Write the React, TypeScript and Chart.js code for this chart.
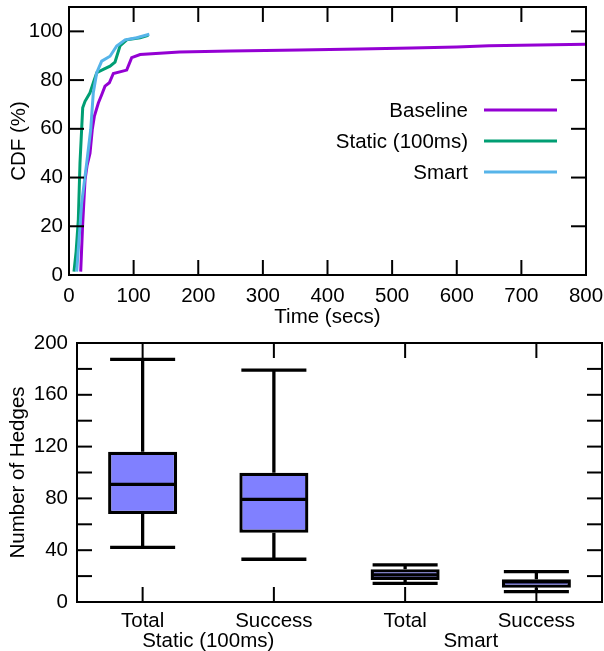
import React, { useEffect, useRef } from "react";
import { Chart, registerables } from "chart.js";

Chart.register(...registerables);

const FONT_FAMILY = "'Liberation Sans', Arial, Helvetica, sans-serif";
const FONT_SIZE = 20.5;

// ---------------- CDF chart data ----------------
const seriesLabels = ["Baseline", "Static (100ms)", "Smart"];
const seriesColors = ["#9400d3", "#009e73", "#56b4e9"];

const baselineTime = [18.1, 21, 24.8, 28, 32.5, 36, 39.2, 45.4, 50.6, 55.7, 62.4, 68.6, 89.3, 97, 110, 171, 250, 357, 450, 530, 600, 650, 700, 800];
const baselineCdf = [1.4, 20, 39, 45, 50, 59.7, 65.1, 70.6, 74, 77.5, 78.9, 82.7, 84.1, 89.2, 90.5, 91.5, 91.9, 92.3, 92.8, 93.2, 93.6, 94.1, 94.3, 94.7];

const staticTime = [7.7, 11, 14.4, 17, 21.2, 24.8, 32.5, 37.6, 42.9, 53.1, 63.5, 71.2, 78.9, 89.3, 110, 122.8];
const staticCdf = [1.4, 9.6, 22.6, 46, 68.6, 71.3, 74.8, 78.9, 83, 84.4, 85.7, 87.4, 94, 96.5, 97.4, 98.4];

const smartTime = [11.9, 19.6, 27.4, 33.6, 37.6, 42.9, 50.6, 63.5, 73.8, 86.7, 104.8, 124.3];
const smartCdf = [1.4, 29.5, 46, 59.7, 74.8, 83, 87.8, 89.8, 94, 96.5, 97.4, 98.8];

const timeTicks = [0, 100, 200, 300, 400, 500, 600, 700, 800];
const cdfTicks = [0, 20, 40, 60, 80, 100];

// ---------------- Box plot data ----------------
const boxCategories = ["Total", "Success", "Total", "Success"];
const boxGroups = ["Static (100ms)", "Smart"];
const whiskerLow = [42.2, 33, 14.4, 8];
const quartile1 = [68, 53.5, 17, 11];
const medianVals = [90.9, 79.3, 21, 15.5];
const quartile3 = [116, 99.8, 25.3, 17.5];
const whiskerHigh = [187.4, 179, 28.6, 23.4];
const hedgeTicks = [0, 20, 40, 60, 80, 100, 120, 140, 160, 180, 200];
const hedgeLabelTicks = [0, 40, 80, 120, 160, 200];

Chart.defaults.font.family = FONT_FAMILY;
Chart.defaults.font.size = FONT_SIZE;
Chart.defaults.color = "#000";

function strokeLine(ctx: CanvasRenderingContext2D, x1: number, y1: number, x2: number, y2: number) {
  ctx.beginPath();
  ctx.moveTo(x1, y1);
  ctx.lineTo(x2, y2);
  ctx.stroke();
}

const frameTicksPlugin = {
  id: "frameTicks",
  afterDatasetsDraw(chart: any, _args: any, opts: any) {
    const { ctx, chartArea: a } = chart;
    ctx.save();
    ctx.strokeStyle = "#000";
    ctx.lineWidth = opts.tickWidth;
    const L = opts.len;
    const xs = chart.scales[opts.xScale];
    const ys = chart.scales[opts.yScale];
    opts.xTicks.forEach((v: number) => {
      const p = xs.getPixelForValue(v);
      strokeLine(ctx, p, a.bottom, p, a.bottom - L);
      strokeLine(ctx, p, a.top, p, a.top + L);
    });
    opts.yTicks.forEach((v: number) => {
      const p = ys.getPixelForValue(v);
      strokeLine(ctx, a.left, p, a.left + L, p);
      strokeLine(ctx, a.right, p, a.right - L, p);
    });
    ctx.lineWidth = opts.frameWidth;
    ctx.strokeRect(a.left, a.top, a.right - a.left, a.bottom - a.top);
    ctx.restore();
  },
};

const insideLegendPlugin = {
  id: "insideLegend",
  afterDatasetsDraw(chart: any, _args: any, opts: any) {
    const { ctx } = chart;
    ctx.save();
    ctx.font = `${FONT_SIZE}px ${FONT_FAMILY}`;
    ctx.textAlign = "right";
    ctx.textBaseline = "middle";
    ctx.fillStyle = "#000";
    chart.data.datasets.forEach((ds: any, i: number) => {
      const y = opts.top + i * opts.rowHeight;
      ctx.fillText(ds.label, opts.textRight, y + 1);
      ctx.strokeStyle = ds.borderColor;
      ctx.lineWidth = 3;
      strokeLine(ctx, opts.lineStart, y, opts.lineEnd, y);
    });
    ctx.restore();
  },
};

const boxWhiskerPlugin = {
  id: "boxWhiskers",
  afterDatasetsDraw(chart: any) {
    const { ctx } = chart;
    const ys = chart.scales.y;
    const meta = chart.getDatasetMeta(0);
    ctx.save();
    ctx.strokeStyle = "#000";
    ctx.lineWidth = 3.3;
    boxCategories.forEach((_c, i) => {
      const bar = meta.data[i];
      const cx = bar.x;
      const half = bar.width / 2;
      const capHalf = half - 2;
      const yHi = ys.getPixelForValue(whiskerHigh[i]);
      const yLo = ys.getPixelForValue(whiskerLow[i]);
      const yQ3 = ys.getPixelForValue(quartile3[i]);
      const yQ1 = ys.getPixelForValue(quartile1[i]);
      const yMed = ys.getPixelForValue(medianVals[i]);
      strokeLine(ctx, cx, yQ3, cx, yHi);
      strokeLine(ctx, cx, yQ1, cx, yLo);
      strokeLine(ctx, cx - capHalf, yHi, cx + capHalf, yHi);
      strokeLine(ctx, cx - capHalf, yLo, cx + capHalf, yLo);
      strokeLine(ctx, cx - half + 1, yMed, cx + half - 1, yMed);
    });
    ctx.restore();
  },
};

function toPoints(xs: number[], ys: number[]) {
  return xs.map((x, i) => ({ x, y: ys[i] }));
}

function fixVertical(width: number) {
  return (s: any) => {
    s.width = width;
    s.paddingTop = 0;
    s.paddingBottom = 0;
  };
}

function fixHorizontal(height: number) {
  return (s: any) => {
    s.height = height;
    s.paddingLeft = 0;
    s.paddingRight = 0;
  };
}

function CdfChart() {
  const ref = useRef<HTMLCanvasElement>(null);
  useEffect(() => {
    const seriesData = [
      toPoints(baselineTime, baselineCdf),
      toPoints(staticTime, staticCdf),
      toPoints(smartTime, smartCdf),
    ];
    const chart = new Chart(ref.current as HTMLCanvasElement, {
      type: "scatter",
      data: {
        datasets: seriesLabels.map((label, i) => ({
          label,
          data: seriesData[i],
          showLine: true,
          borderColor: seriesColors[i],
          backgroundColor: seriesColors[i],
          borderWidth: 3,
          pointRadius: 0,
          tension: 0,
          order: 3 - i,
        })),
      },
      options: {
        responsive: false,
        animation: false,
        devicePixelRatio: 1,
        layout: { padding: { top: 7, right: 18, left: 0, bottom: 0 } },
        scales: {
          x: {
            type: "linear",
            min: 0,
            max: 800,
            afterBuildTicks: (s: any) => {
              s.ticks = timeTicks.map((value) => ({ value }));
            },
            afterFit: fixHorizontal(55),
            grid: { display: false, drawTicks: false },
            border: { display: false },
            ticks: { padding: 9, autoSkip: false, maxRotation: 0 },
            title: {
              display: true,
              text: "Time (secs)",
              font: { size: FONT_SIZE, lineHeight: 1.2 },
              padding: { top: 0, bottom: 0 },
            },
          },
          y: {
            type: "linear",
            min: 0,
            max: 110,
            afterBuildTicks: (s: any) => {
              s.ticks = cdfTicks.map((value) => ({ value }));
            },
            afterFit: fixVertical(69),
            grid: { display: false, drawTicks: false },
            border: { display: false },
            ticks: { padding: 6, autoSkip: false },
            title: {
              display: true,
              text: "CDF (%)",
              font: { size: FONT_SIZE, lineHeight: 1.2 },
              padding: { top: 7, bottom: 0 },
            },
          },
        },
        plugins: {
          legend: { display: false },
          tooltip: { enabled: false },
          frameTicks: {
            xScale: "x",
            yScale: "y",
            xTicks: timeTicks,
            yTicks: cdfTicks,
            len: 15,
            tickWidth: 2,
            frameWidth: 2,
          },
          insideLegend: {
            top: 110,
            rowHeight: 31,
            textRight: 468,
            lineStart: 484,
            lineEnd: 557,
          },
        } as any,
      },
      plugins: [frameTicksPlugin, insideLegendPlugin],
    } as any);
    return () => chart.destroy();
  }, []);
  return <canvas ref={ref} width={604} height={330} style={{ display: "block", width: 604, height: 330 }} />;
}

function BoxChart() {
  const ref = useRef<HTMLCanvasElement>(null);
  useEffect(() => {
    const chart = new Chart(ref.current as HTMLCanvasElement, {
      type: "bar",
      data: {
        labels: boxCategories,
        datasets: [
          {
            label: "Number of Hedges",
            data: quartile1.map((q, i) => [q, quartile3[i]]),
            backgroundColor: "#8080ff",
            borderColor: "#000",
            borderWidth: 3.3,
            borderSkipped: false,
            barPercentage: 0.526,
            categoryPercentage: 1,
          },
        ],
      },
      options: {
        responsive: false,
        animation: false,
        devicePixelRatio: 1,
        layout: { padding: { top: 13, right: 2, left: 0, bottom: 0 } },
        scales: {
          x: {
            type: "category",
            position: "bottom",
            weight: 0,
            offset: true,
            afterFit: fixHorizontal(26),
            grid: { display: false, drawTicks: false },
            border: { display: false },
            ticks: { padding: 7, autoSkip: false, maxRotation: 0 },
          },
          x2: {
            type: "category",
            position: "bottom",
            weight: 1,
            offset: true,
            labels: boxGroups,
            afterFit: fixHorizontal(23),
            grid: { display: false, drawTicks: false },
            border: { display: false },
            ticks: { padding: 1, autoSkip: false, maxRotation: 0 },
          },
          y: {
            type: "linear",
            min: 0,
            max: 200,
            afterBuildTicks: (s: any) => {
              s.ticks = hedgeTicks.map((value) => ({ value }));
            },
            afterFit: fixVertical(77),
            grid: { display: false, drawTicks: false },
            border: { display: false },
            ticks: {
              padding: 9,
              autoSkip: false,
              callback: (v: any) => (hedgeLabelTicks.includes(Number(v)) ? String(v) : ""),
            },
            title: {
              display: true,
              text: "Number of Hedges",
              font: { size: FONT_SIZE, lineHeight: 1.2 },
              padding: { top: 6, bottom: 0 },
            },
          },
        },
        plugins: {
          legend: { display: false },
          tooltip: { enabled: false },
          frameTicks: {
            xScale: "x",
            yScale: "y",
            xTicks: boxCategories.map((_c, i) => i),
            yTicks: hedgeTicks,
            len: 15,
            tickWidth: 2,
            frameWidth: 2,
          },
        } as any,
      },
      plugins: [boxWhiskerPlugin, frameTicksPlugin],
    } as any);
    return () => chart.destroy();
  }, []);
  return <canvas ref={ref} width={604} height={321} style={{ display: "block", width: 604, height: 321 }} />;
}

export default function App() {
  return (
    <div style={{ position: "absolute", left: 0, top: 0, width: 604, height: 651, background: "#fff" }}>
      <CdfChart />
      <BoxChart />
    </div>
  );
}
